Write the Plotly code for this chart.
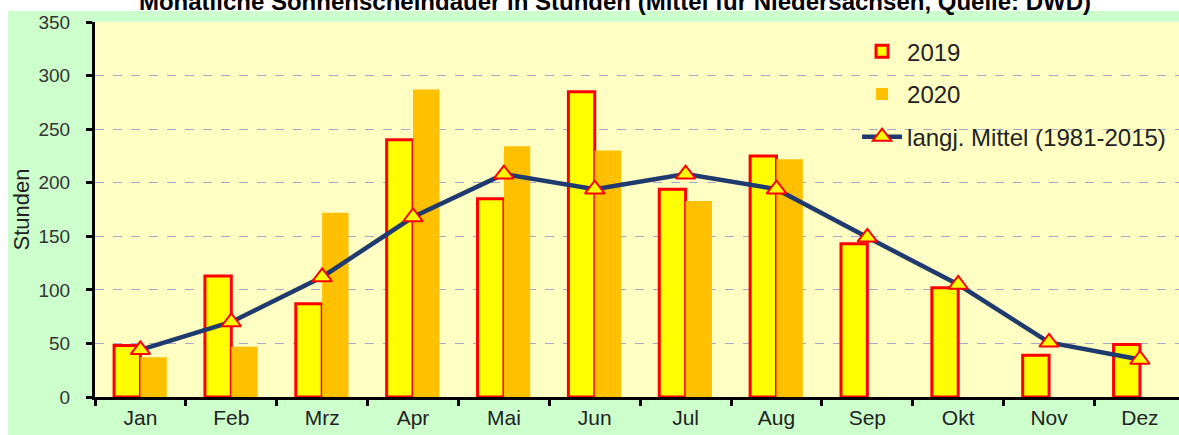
import plotly.graph_objects as go

months = ["Jan", "Feb", "Mrz", "Apr", "Mai", "Jun", "Jul", "Aug", "Sep", "Okt", "Nov", "Dez"]
sun_2019 = [48, 113, 87, 240, 185, 285, 194, 225, 143, 102, 39, 49]
sun_2020 = [37, 47, 172, 287, 234, 230, 183, 222, None, None, None, None]
mean_1981_2015 = [44, 70, 112, 168, 208, 194, 208, 194, 149, 105, 51, 35]

fig = go.Figure()
fig.add_trace(go.Bar(
    x=months, y=sun_2019, name="2019", legendgroup="a",
    marker=dict(color="#FFFF00", line=dict(color="#FF0000", width=3)),
))
fig.add_trace(go.Bar(
    x=months, y=sun_2020, name="2020", legendgroup="b",
    marker=dict(color="#FFC000", line=dict(width=0)),
))
fig.add_trace(go.Scatter(
    x=months, y=mean_1981_2015, name="langj. Mittel (1981-2015)", legendgroup="c",
    mode="lines+markers",
    line=dict(color="#1F3A6E", width=4.5),
    marker=dict(symbol="triangle-up", size=17, color="#FFFF00",
                line=dict(color="#FF0000", width=2)),
))

H = 435
fig.update_layout(
    width=1179, height=H,
    margin=dict(l=95, r=0, t=22, b=38),
    paper_bgcolor="#CCFFCC",
    plot_bgcolor="#FFFFC4",
    barmode="group", bargap=0.42, bargroupgap=0,
    font=dict(family="Arial, Liberation Sans, sans-serif", color="#222222"),
    title=dict(
        text="<b>Monatliche Sonnenscheindauer in Stunden (Mittel für Niedersachsen, Quelle: DWD)</b>",
        x=615 / 1179, xanchor="center", y=1 - 9.5 / H, yanchor="bottom", yref="container",
        pad=dict(t=0, b=0, l=0, r=0),
        font=dict(size=24, color="#000000"),
    ),
    legend=dict(
        x=0.703, y=0.981, xanchor="left", yanchor="top",
        bgcolor="rgba(0,0,0,0)", font=dict(size=24, color="#222222"),
        tracegroupgap=8.5, traceorder="grouped", itemwidth=40,
    ),
    shapes=[
        dict(type="rect", xref="paper", yref="paper", x0=-0.2, x1=1.1, y0=1 + 11 / 375, y1=1.3,
             fillcolor="#FFFFFF", line=dict(width=0), layer="below"),
        dict(type="rect", xref="paper", yref="paper", x0=-0.2, x1=-87 / 1084, y0=-0.3, y1=1.3,
             fillcolor="#FFFFFF", line=dict(width=0), layer="below"),
    ],
)

fig.update_xaxes(
    range=[-0.5, 11.43], showline=True, linecolor="#000000", linewidth=3,
    ticks="outside", tickson="boundaries", ticklen=6, tickwidth=3, tickcolor="#000000",
    tickfont=dict(size=21, color="#222222"), showgrid=False,
)
fig.update_yaxes(
    range=[0, 350], dtick=50, showline=True, linecolor="#000000", linewidth=3,
    ticks="outside", ticklen=6, tickwidth=3, tickcolor="#000000",
    tickfont=dict(size=19, color="#333333"), ticklabelstandoff=12,
    showgrid=True, gridcolor="#A8A8C8", griddash="dash", gridwidth=1,
    title=dict(text="Stunden", font=dict(size=22, color="#222222"), standoff=3),
    zeroline=False,
)

fig.write_html(
    "out.html",
    config={"displayModeBar": False},
    post_script="document.body.style.margin='0px';document.body.style.overflow='hidden';"
                "document.documentElement.style.overflow='hidden';",
)
